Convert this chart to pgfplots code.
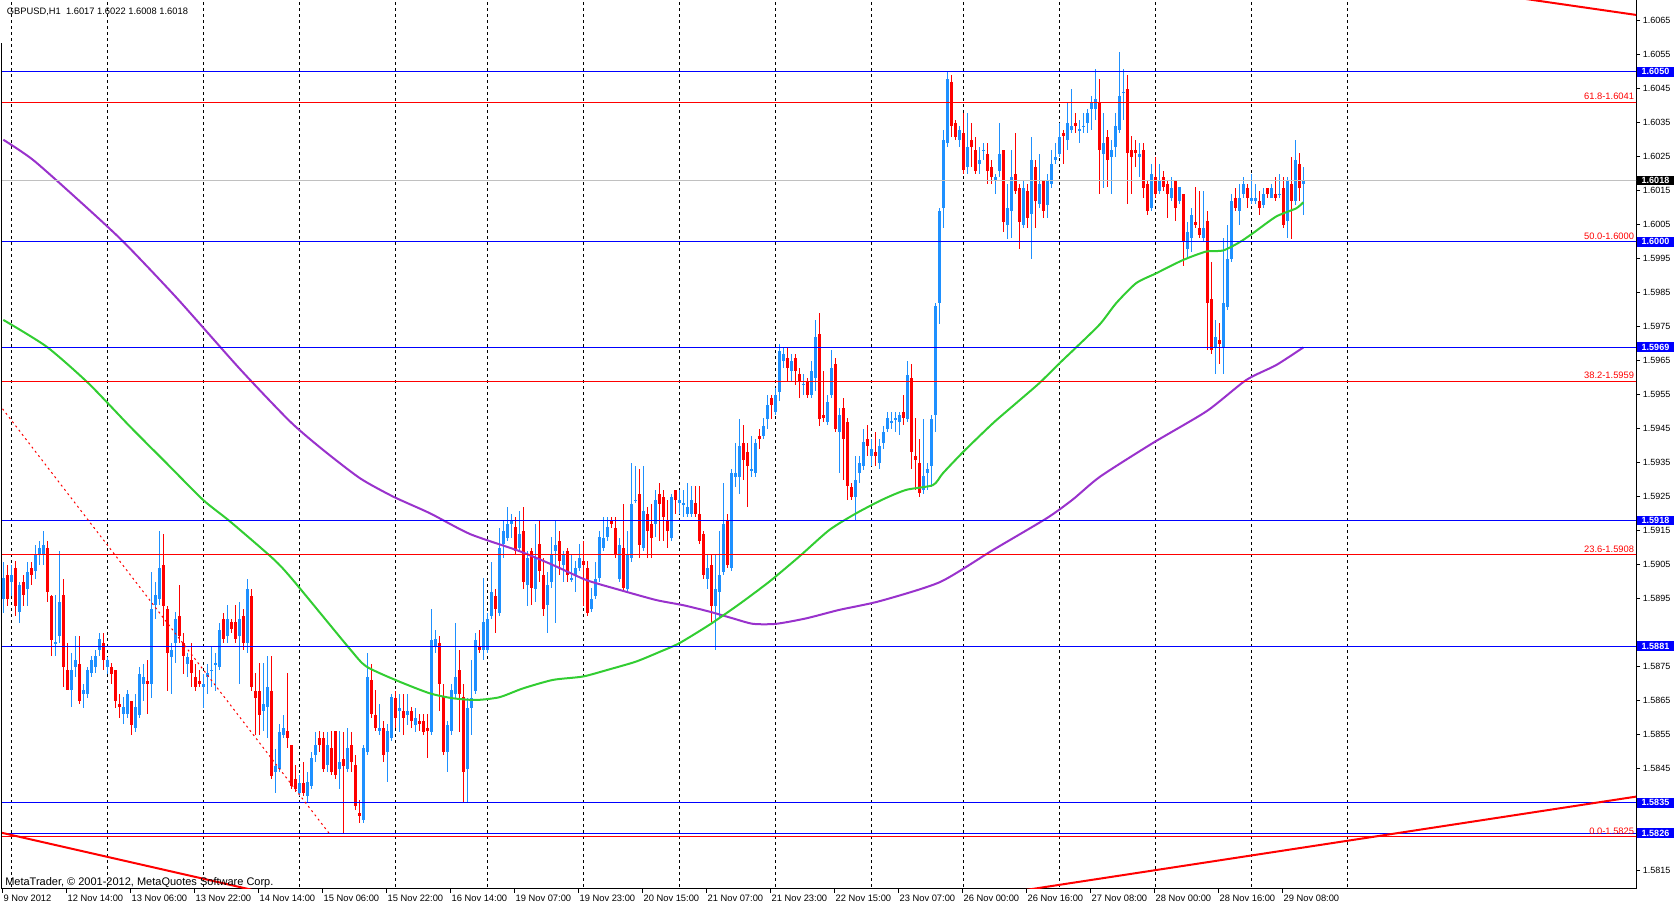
\documentclass[border=0pt]{standalone}
\usepackage{pgfplots}
\usepackage{pgfplotstable}
\usepackage{fontspec}
\setmainfont{Liberation Sans}
\pgfplotsset{compat=1.18}
\definecolor{bull}{HTML}{1E90FF}
\definecolor{bear}{HTML}{FF0000}
\definecolor{maG}{HTML}{32CD32}
\definecolor{maP}{HTML}{9932CC}
\definecolor{lvl}{HTML}{0000FF}
\definecolor{bidgray}{HTML}{C0C0C0}

\pgfplotstableread{
i o h l c
0 1.5895 1.5906 1.5891 1.5901
1 1.5902 1.5905 1.5893 1.5895
2 1.5900 1.5905 1.5896 1.5902
3 1.5904 1.5906 1.5890 1.5893
4 1.5891 1.5900 1.5888 1.5899
5 1.5900 1.5902 1.5893 1.5896
6 1.5898 1.5906 1.5893 1.5903
7 1.5904 1.5906 1.5899 1.5902
8 1.5903 1.5911 1.5901 1.5908
9 1.5908 1.5912 1.5905 1.5910
10 1.5908 1.5915 1.5905 1.5911
11 1.5910 1.5912 1.5894 1.5897
12 1.5896 1.5896 1.5878 1.5883
13 1.5882 1.5896 1.5878 1.5882
14 1.5884 1.5909 1.5882 1.5894
15 1.5896 1.5901 1.5869 1.5875
16 1.5874 1.5882 1.5868 1.5868
17 1.5868 1.5879 1.5863 1.5874
18 1.5875 1.5884 1.5872 1.5877
19 1.5876 1.5884 1.5864 1.5865
20 1.5867 1.5870 1.5863 1.5868
21 1.5867 1.5875 1.5866 1.5874
22 1.5873 1.5878 1.5872 1.5877
23 1.5875 1.5880 1.5873 1.5878
24 1.5880 1.5885 1.5878 1.5883
25 1.5882 1.5885 1.5874 1.5877
26 1.5875 1.5878 1.5873 1.5877
27 1.5875 1.5876 1.5870 1.5873
28 1.5874 1.5874 1.5863 1.5865
29 1.5864 1.5867 1.5860 1.5863
30 1.5861 1.5866 1.5858 1.5863
31 1.5861 1.5868 1.5860 1.5867
32 1.5865 1.5865 1.5855 1.5858
33 1.5857 1.5867 1.5856 1.5863
34 1.5861 1.5875 1.5860 1.5873
35 1.5870 1.5876 1.5865 1.5872
36 1.5871 1.5877 1.5861 1.5870
37 1.5870 1.5903 1.5866 1.5892
38 1.5893 1.5900 1.5889 1.5896
39 1.5895 1.5915 1.5893 1.5904
40 1.5905 1.5914 1.5887 1.5893
41 1.5892 1.5893 1.5868 1.5879
42 1.5878 1.5882 1.5867 1.5880
43 1.5882 1.5891 1.5876 1.5889
44 1.5890 1.5899 1.5882 1.5884
45 1.5882 1.5885 1.5873 1.5878
46 1.5876 1.5879 1.5872 1.5878
47 1.5877 1.5882 1.5869 1.5873
48 1.5872 1.5876 1.5868 1.5869
49 1.5871 1.5874 1.5869 1.5870
50 1.5869 1.5873 1.5863 1.5870
51 1.5872 1.5876 1.5867 1.5873
52 1.5874 1.5881 1.5869 1.5874
53 1.5876 1.5879 1.5868 1.5876
54 1.5875 1.5888 1.5874 1.5886
55 1.5889 1.5891 1.5882 1.5883
56 1.5884 1.5893 1.5882 1.5889
57 1.5888 1.5889 1.5885 1.5886
58 1.5888 1.5893 1.5882 1.5883
59 1.5884 1.5894 1.5870 1.5889
60 1.5890 1.5892 1.5880 1.5882
61 1.5882 1.5901 1.5879 1.5898
62 1.5896 1.5898 1.5868 1.5869
63 1.5868 1.5873 1.5855 1.5866
64 1.5868 1.5876 1.5855 1.5861
65 1.5862 1.5876 1.5856 1.5864
66 1.5863 1.5878 1.5854 1.5869
67 1.5868 1.5878 1.5842 1.5843
68 1.5844 1.5851 1.5838 1.5846
69 1.5845 1.5858 1.5844 1.5856
70 1.5855 1.5861 1.5854 1.5857
71 1.5856 1.5873 1.5851 1.5854
72 1.5852 1.5852 1.5839 1.5840
73 1.5842 1.5846 1.5838 1.5839
74 1.5838 1.5843 1.5837 1.5841
75 1.5841 1.5847 1.5837 1.5838
76 1.5837 1.5844 1.5835 1.5841
77 1.5840 1.5850 1.5839 1.5848
78 1.5849 1.5856 1.5847 1.5852
79 1.5854 1.5856 1.5850 1.5852
80 1.5854 1.5856 1.5844 1.5845
81 1.5846 1.5856 1.5844 1.5852
82 1.5851 1.5856 1.5843 1.5844
83 1.5856 1.5856 1.5842 1.5843
84 1.5845 1.5856 1.5839 1.5847
85 1.5848 1.5856 1.5826 1.5846
86 1.5845 1.5857 1.5844 1.5851
87 1.5852 1.5856 1.5844 1.5847
88 1.5846 1.5849 1.5833 1.5834
89 1.5832 1.5836 1.5829 1.5831
90 1.5830 1.5852 1.5829 1.5851
91 1.5850 1.5879 1.5849 1.5872
92 1.5871 1.5876 1.5860 1.5861
93 1.5861 1.5868 1.5856 1.5857
94 1.5856 1.5864 1.5855 1.5857
95 1.5857 1.5859 1.5847 1.5849
96 1.5850 1.5858 1.5841 1.5856
97 1.5854 1.5867 1.5853 1.5866
98 1.5866 1.5868 1.5857 1.5860
99 1.5862 1.5867 1.5856 1.5863
100 1.5862 1.5867 1.5855 1.5860
101 1.5861 1.5867 1.5858 1.5862
102 1.5862 1.5863 1.5857 1.5859
103 1.5858 1.5863 1.5856 1.5860
104 1.5859 1.5861 1.5856 1.5858
105 1.5859 1.5861 1.5855 1.5856
106 1.5857 1.5861 1.5848 1.5856
107 1.5856 1.5892 1.5855 1.5883
108 1.5881 1.5886 1.5879 1.5883
109 1.5882 1.5884 1.5862 1.5870
110 1.5866 1.5870 1.5849 1.5850
111 1.5850 1.5859 1.5844 1.5858
112 1.5856 1.5870 1.5855 1.5868
113 1.5867 1.5888 1.5866 1.5872
114 1.5874 1.5880 1.5856 1.5867
115 1.5866 1.5870 1.5835 1.5844
116 1.5845 1.5866 1.5835 1.5863
117 1.5863 1.5877 1.5855 1.5866
118 1.5868 1.5885 1.5867 1.5883
119 1.5881 1.5886 1.5879 1.5880
120 1.5880 1.5901 1.5877 1.5888
121 1.5880 1.5891 1.5879 1.5889
122 1.5890 1.5906 1.5889 1.5897
123 1.5896 1.5898 1.5885 1.5892
124 1.5891 1.5916 1.5890 1.5910
125 1.5911 1.5918 1.5907 1.5915
126 1.5913 1.5922 1.5912 1.5917
127 1.5917 1.5920 1.5913 1.5918
128 1.5916 1.5919 1.5908 1.5909
129 1.5910 1.5921 1.5909 1.5914
130 1.5915 1.5922 1.5898 1.5900
131 1.5899 1.5909 1.5893 1.5907
132 1.5909 1.5910 1.5893 1.5898
133 1.5898 1.5917 1.5894 1.5907
134 1.5911 1.5918 1.5900 1.5903
135 1.5902 1.5907 1.5890 1.5892
136 1.5893 1.5903 1.5885 1.5899
137 1.5900 1.5913 1.5898 1.5908
138 1.5909 1.5918 1.5888 1.5911
139 1.5912 1.5915 1.5902 1.5906
140 1.5905 1.5909 1.5900 1.5908
141 1.5909 1.5910 1.5900 1.5902
142 1.5901 1.5908 1.5900 1.5901
143 1.5902 1.5906 1.5897 1.5904
144 1.5904 1.5911 1.5903 1.5907
145 1.5906 1.5912 1.5893 1.5905
146 1.5904 1.5906 1.5890 1.5891
147 1.5892 1.5898 1.5891 1.5895
148 1.5896 1.5906 1.5895 1.5901
149 1.5901 1.5915 1.5900 1.5913
150 1.5910 1.5919 1.5909 1.5913
151 1.5913 1.5919 1.5912 1.5916
152 1.5918 1.5919 1.5916 1.5917
153 1.5916 1.5919 1.5907 1.5908
154 1.5901 1.5913 1.5900 1.5911
155 1.5910 1.5923 1.5897 1.5898
156 1.5898 1.5915 1.5897 1.5908
157 1.5907 1.5935 1.5906 1.5923
158 1.5924 1.5934 1.5923 1.5924
159 1.5926 1.5933 1.5907 1.5911
160 1.5910 1.5934 1.5909 1.5921
161 1.5920 1.5922 1.5907 1.5915
162 1.5917 1.5923 1.5907 1.5913
163 1.5917 1.5927 1.5913 1.5924
164 1.5926 1.5929 1.5912 1.5923
165 1.5925 1.5927 1.5912 1.5919
166 1.5918 1.5924 1.5910 1.5915
167 1.5913 1.5926 1.5912 1.5925
168 1.5927 1.5927 1.5920 1.5924
169 1.5923 1.5927 1.5920 1.5924
170 1.5923 1.5927 1.5919 1.5923
171 1.5920 1.5929 1.5919 1.5922
172 1.5920 1.5928 1.5919 1.5924
173 1.5923 1.5928 1.5919 1.5920
174 1.5920 1.5928 1.5911 1.5912
175 1.5914 1.5915 1.5901 1.5902
176 1.5901 1.5908 1.5898 1.5904
177 1.5905 1.5908 1.5888 1.5893
178 1.5893 1.5908 1.5880 1.5898
179 1.5897 1.5915 1.5889 1.5902
180 1.5903 1.5929 1.5902 1.5917
181 1.5918 1.5920 1.5904 1.5905
182 1.5904 1.5933 1.5903 1.5932
183 1.5931 1.5941 1.5928 1.5932
184 1.5931 1.5948 1.5926 1.5940
185 1.5941 1.5946 1.5930 1.5936
186 1.5938 1.5941 1.5922 1.5934
187 1.5933 1.5943 1.5931 1.5933
188 1.5932 1.5942 1.5931 1.5941
189 1.5943 1.5945 1.5939 1.5942
190 1.5943 1.5948 1.5942 1.5946
191 1.5948 1.5955 1.5945 1.5952
192 1.5954 1.5955 1.5948 1.5952
193 1.5950 1.5957 1.5949 1.5955
194 1.5956 1.5970 1.5953 1.5968
195 1.5965 1.5969 1.5963 1.5967
196 1.5966 1.5969 1.5959 1.5963
197 1.5962 1.5967 1.5959 1.5965
198 1.5966 1.5967 1.5958 1.5962
199 1.5961 1.5963 1.5954 1.5959
200 1.5958 1.5961 1.5955 1.5958
201 1.5959 1.5960 1.5954 1.5955
202 1.5955 1.5965 1.5954 1.5962
203 1.5960 1.5977 1.5956 1.5972
204 1.5973 1.5979 1.5946 1.5948
205 1.5949 1.5962 1.5947 1.5948
206 1.5947 1.5955 1.5946 1.5953
207 1.5955 1.5968 1.5954 1.5963
208 1.5964 1.5966 1.5944 1.5945
209 1.5944 1.5951 1.5932 1.5949
210 1.5951 1.5954 1.5930 1.5942
211 1.5947 1.5948 1.5924 1.5928
212 1.5928 1.5929 1.5924 1.5925
213 1.5925 1.5937 1.5918 1.5930
214 1.5932 1.5937 1.5929 1.5935
215 1.5934 1.5945 1.5933 1.5941
216 1.5942 1.5946 1.5937 1.5940
217 1.5937 1.5942 1.5934 1.5939
218 1.5938 1.5944 1.5934 1.5937
219 1.5935 1.5942 1.5933 1.5940
220 1.5941 1.5946 1.5939 1.5944
221 1.5945 1.5950 1.5944 1.5948
222 1.5947 1.5950 1.5945 1.5947
223 1.5948 1.5950 1.5944 1.5948
224 1.5947 1.5950 1.5943 1.5949
225 1.5950 1.5955 1.5946 1.5948
226 1.5948 1.5965 1.5947 1.5961
227 1.5960 1.5964 1.5933 1.5938
228 1.5937 1.5948 1.5927 1.5936
229 1.5935 1.5942 1.5925 1.5926
230 1.5927 1.5948 1.5926 1.5931
231 1.5932 1.5935 1.5927 1.5933
232 1.5934 1.5949 1.5928 1.5948
233 1.5949 1.5982 1.5944 1.5981
234 1.5982 1.6010 1.5976 1.6009
235 1.6010 1.6033 1.6004 1.6030
236 1.6029 1.6050 1.6028 1.6048
237 1.6047 1.6049 1.6031 1.6034
238 1.6035 1.6036 1.6030 1.6031
239 1.6030 1.6034 1.6028 1.6033
240 1.6032 1.6038 1.6020 1.6021
241 1.6022 1.6038 1.6020 1.6028
242 1.6030 1.6035 1.6022 1.6028
243 1.6027 1.6031 1.6020 1.6021
244 1.6023 1.6028 1.6020 1.6024
245 1.6027 1.6029 1.6024 1.6027
246 1.6026 1.6029 1.6017 1.6021
247 1.6022 1.6024 1.6017 1.6019
248 1.6018 1.6020 1.6014 1.6019
249 1.6021 1.6035 1.6019 1.6026
250 1.6027 1.6027 1.6003 1.6006
251 1.6005 1.6017 1.6001 1.6010
252 1.6009 1.6027 1.6001 1.6019
253 1.6020 1.6032 1.6014 1.6015
254 1.6016 1.6017 1.5998 1.6006
255 1.6005 1.6018 1.6004 1.6016
256 1.6015 1.6017 1.6004 1.6007
257 1.6008 1.6031 1.5995 1.6024
258 1.6022 1.6024 1.6004 1.6012
259 1.6011 1.6026 1.6010 1.6017
260 1.6018 1.6018 1.6007 1.6009
261 1.6011 1.6020 1.6007 1.6018
262 1.6017 1.6027 1.6016 1.6023
263 1.6024 1.6029 1.6023 1.6025
264 1.6026 1.6035 1.6025 1.6031
265 1.6032 1.6033 1.6023 1.6031
266 1.6030 1.6041 1.6027 1.6035
267 1.6033 1.6045 1.6032 1.6034
268 1.6035 1.6038 1.6032 1.6034
269 1.6033 1.6036 1.6029 1.6033
270 1.6034 1.6038 1.6032 1.6034
271 1.6035 1.6039 1.6032 1.6038
272 1.6039 1.6043 1.6033 1.6041
273 1.6039 1.6051 1.6036 1.6042
274 1.6041 1.6048 1.6014 1.6027
275 1.6026 1.6038 1.6016 1.6029
276 1.6031 1.6033 1.6016 1.6024
277 1.6025 1.6030 1.6014 1.6027
278 1.6028 1.6038 1.6025 1.6034
279 1.6033 1.6056 1.6032 1.6043
280 1.6044 1.6051 1.6036 1.6044
281 1.6045 1.6049 1.6011 1.6026
282 1.6027 1.6031 1.6014 1.6025
283 1.6027 1.6030 1.6022 1.6026
284 1.6025 1.6029 1.6019 1.6026
285 1.6027 1.6029 1.6013 1.6016
286 1.6017 1.6018 1.6008 1.6009
287 1.6010 1.6023 1.6009 1.6020
288 1.6019 1.6025 1.6013 1.6014
289 1.6015 1.6023 1.6014 1.6018
290 1.6019 1.6021 1.6015 1.6016
291 1.6017 1.6018 1.6007 1.6014
292 1.6013 1.6019 1.6012 1.6016
293 1.6018 1.6018 1.6006 1.6010
294 1.6012 1.6016 1.6011 1.6016
295 1.6014 1.6014 1.5993 1.6000
296 1.5998 1.6006 1.5995 1.6003
297 1.6001 1.6010 1.5997 1.6008
298 1.6006 1.6016 1.6004 1.6005
299 1.6004 1.6015 1.6001 1.6002
300 1.6001 1.6015 1.6000 1.6004
301 1.6006 1.6009 1.5968 1.5982
302 1.5983 1.5994 1.5967 1.5968
303 1.5969 1.5977 1.5961 1.5972
304 1.5971 1.5976 1.5964 1.5970
305 1.5969 1.6001 1.5961 1.5982
306 1.5981 1.6005 1.5980 1.5995
307 1.5995 1.6014 1.5994 1.6012
308 1.6013 1.6016 1.6009 1.6010
309 1.6009 1.6017 1.6005 1.6013
310 1.6014 1.6019 1.6013 1.6017
311 1.6016 1.6017 1.6010 1.6013
312 1.6012 1.6020 1.6011 1.6013
313 1.6012 1.6017 1.6011 1.6013
314 1.6012 1.6015 1.6008 1.6010
315 1.6011 1.6016 1.6010 1.6014
316 1.6016 1.6016 1.6013 1.6014
317 1.6013 1.6017 1.6013 1.6016
318 1.6014 1.6019 1.6012 1.6013
319 1.6014 1.6020 1.6013 1.6014
320 1.6016 1.6019 1.6004 1.6005
321 1.6006 1.6019 1.6001 1.6018
322 1.6017 1.6025 1.6001 1.6012
323 1.6012 1.6030 1.6011 1.6024
324 1.6023 1.6026 1.6012 1.6016
325 1.6017 1.6022 1.6008 1.6018
}\candles

\pgfplotstableread{
i p
0 1.59770
10.85 1.59691
21.25 1.59584
31.7 1.59456
40.85 1.59348
50 1.59240
56.7 1.59177
67.5 1.59067
72.4 1.59005
86.5 1.58804
90.7 1.58751
98.2 1.58710
106.5 1.58672
112.4 1.58657
118.2 1.58652
124 1.58660
129.9 1.58686
137.4 1.58711
144.9 1.58721
151.5 1.58742
158.2 1.58765
164.2 1.58794
169 1.58819
176.5 1.58873
184 1.58934
191.5 1.59000
199 1.59074
206.5 1.59152
213.2 1.59201
219.9 1.59242
225.7 1.59270
232.4 1.59284
234.9 1.59319
240 1.59382
247.4 1.59466
253.2 1.59525
259 1.59584
264 1.59642
268.2 1.59689
274.2 1.59758
278.2 1.59819
283.2 1.59878
288.2 1.59907
294.9 1.59946
300.7 1.59971
304.9 1.59974
309 1.59998
312.4 1.60025
318.2 1.60074
323.2 1.60098
325 1.60116
}\maGreen

\pgfplotstableread{
i p
0 1.60300
7.5 1.60240
19.2 1.60118
30 1.60000
43.4 1.59834
59.2 1.59625
71.7 1.59471
80 1.59387
89.2 1.59304
97.5 1.59250
106.7 1.59201
116.7 1.59140
129 1.59090
137.4 1.59049
145.7 1.59005
154 1.58976
163.2 1.58946
169.9 1.58931
176.5 1.58912
182.4 1.58892
187.4 1.58876
193.2 1.58876
200.7 1.58892
209 1.58917
219.2 1.58943
234.2 1.58999
247.4 1.59093
260.9 1.59187
267.4 1.59242
274.2 1.59309
287.4 1.59408
300.9 1.59502
310.7 1.59593
318.2 1.59637
325 1.59689
}\maPurple

\pgfplotsset{
  wick/.style={draw=none, mark=none, forget plot,
    /pgfplots/error bars/y dir=both, /pgfplots/error bars/y explicit,
    /pgfplots/error bars/error mark=none,
    /pgfplots/error bars/error bar style={draw=#1, line width=0.75pt, line cap=butt}},
  body/.style={draw=none, mark=none, forget plot,
    /pgfplots/error bars/y dir=both, /pgfplots/error bars/y explicit,
    /pgfplots/error bars/error mark=none,
    /pgfplots/error bars/error bar style={draw=#1, line width=2.25pt, line cap=butt}},
  hline/.style={#1, line width=0.75pt, forget plot, mark=none},
}
\tikzset{
  boxlbl/.style={fill=#1, text=white, anchor=west, inner sep=0pt, minimum width=28pt,
    minimum height=7.3pt, font=\bfseries\fontsize{6.75pt}{8pt}\selectfont, xshift=0.4pt},
  fiblbl/.style={text=red, anchor=south east, inner sep=0pt, xshift=-1.3pt, yshift=1.5pt,
    font=\fontsize{7pt}{8pt}\selectfont},
}

\begin{document}
\begin{tikzpicture}
\path[use as bounding box] (0,0) rectangle (1255.5pt,679.5pt);
\begin{axis}[
  at={(1.5pt,12.75pt)}, anchor=south west, scale only axis,
  width=1225.5pt, height=666.75pt,
  xmin=-0.325, xmax=408.175, ymin=1.58096, ymax=1.60711,
  clip mode=individual,
  axis x line*=bottom, axis y line*=right,
  x axis line style={-}, y axis line style={-},
  axis line style={black, line width=0.75pt},
  xtick pos=left, xticklabel pos=left,
  ytick pos=right, yticklabel pos=right,
  tick align=outside, major tick length=3pt,
  tick style={black, line width=0.75pt},
  xtick={-0.15,15.85,31.85,47.85,63.85,79.85,95.85,111.85,127.85,143.85,159.85,175.85,191.85,207.85,223.85,239.85,255.85,271.85,287.85,303.85,319.85},
  xticklabels={9 Nov 2012,12 Nov 14:00,13 Nov 06:00,13 Nov 22:00,14 Nov 14:00,15 Nov 06:00,15 Nov 22:00,16 Nov 14:00,19 Nov 07:00,19 Nov 23:00,20 Nov 15:00,21 Nov 07:00,21 Nov 23:00,22 Nov 15:00,23 Nov 07:00,26 Nov 00:00,26 Nov 16:00,27 Nov 08:00,28 Nov 00:00,28 Nov 16:00,29 Nov 08:00},
  xticklabel style={anchor=north west, inner sep=0pt, xshift=0.5pt, yshift=-1.5pt,
    font=\fontsize{7pt}{8pt}\selectfont},
  ytick={1.5815,1.5835,1.5845,1.5855,1.5865,1.5875,1.5895,1.5905,1.5915,1.5925,1.5935,1.5945,1.5955,1.5965,1.5975,1.5985,1.5995,1.6005,1.6015,1.6025,1.6035,1.6045,1.6055,1.6065},
  scaled y ticks=false,
  yticklabel style={anchor=west, inner sep=0pt, xshift=2pt,
    font=\fontsize{6.75pt}{8pt}\selectfont,
    /pgf/number format/.cd, fixed, fixed zerofill, precision=4, assume math mode=true},
]
% day separators
\pgfplotsinvokeforeach{2,26,50,74,98,121,145,169,193,217,240,264,288,312,336}{
  \addplot[black, line width=0.75pt, dash pattern=on 2.25pt off 2.25pt, forget plot, mark=none]
    coordinates {(#1,1.5805) (#1,1.6080)};
}
% candles: wicks
\addplot[wick=bull, restrict expr to domain={\thisrow{c}-\thisrow{o}}{-0.00005:1}]
  table[x=i, y expr={(\thisrow{h}+\thisrow{l})/2}, y error expr={(\thisrow{h}-\thisrow{l})/2}] {\candles};
\addplot[wick=bear, restrict expr to domain={\thisrow{c}-\thisrow{o}}{-1:-0.00005}]
  table[x=i, y expr={(\thisrow{h}+\thisrow{l})/2}, y error expr={(\thisrow{h}-\thisrow{l})/2}] {\candles};
% candles: bodies
\addplot[body=bull, restrict expr to domain={\thisrow{c}-\thisrow{o}}{-0.00005:1}]
  table[x=i, y expr={(\thisrow{o}+\thisrow{c})/2}, y error expr={max(abs(\thisrow{c}-\thisrow{o})/2,0.0000147)}] {\candles};
\addplot[body=bear, restrict expr to domain={\thisrow{c}-\thisrow{o}}{-1:-0.00005}]
  table[x=i, y expr={(\thisrow{o}+\thisrow{c})/2}, y error expr={max(abs(\thisrow{c}-\thisrow{o})/2,0.0000147)}] {\candles};
% moving averages
\addplot[maP, line width=1.5pt, mark=none, smooth, tension=0.4] table[x=i, y=p] {\maPurple};
\addplot[maG, line width=1.5pt, mark=none, smooth, tension=0.4] table[x=i, y=p] {\maGreen};
% fibonacci levels (red)
\addplot[hline=red] coordinates {(-2,1.6041) (412,1.6041)};
\addplot[hline=red] coordinates {(-2,1.6000) (412,1.6000)};
\addplot[hline=red] coordinates {(-2,1.5959) (412,1.5959)};
\addplot[hline=red] coordinates {(-2,1.5908) (412,1.5908)};
\addplot[hline=red] coordinates {(-2,1.5825) (412,1.5825)};
% bid line
\addplot[hline=bidgray] coordinates {(-2,1.6018) (412,1.6018)};
% horizontal levels (blue)
\addplot[hline=lvl] coordinates {(-2,1.6050) (412,1.6050)};
\addplot[hline=lvl] coordinates {(-2,1.6000) (412,1.6000)};
\addplot[hline=lvl] coordinates {(-2,1.5969) (412,1.5969)};
\addplot[hline=lvl] coordinates {(-2,1.5918) (412,1.5918)};
\addplot[hline=lvl] coordinates {(-2,1.5881) (412,1.5881)};
\addplot[hline=lvl] coordinates {(-2,1.5835) (412,1.5835)};
\addplot[hline=lvl] coordinates {(-2,1.5826) (412,1.5826)};
% fibonacci diagonal
\addplot[red, line width=0.75pt, dash pattern=on 1.5pt off 2.5pt, forget plot, mark=none]
  coordinates {(-1,1.59521) (81.7,1.58256)};
% trend lines
\addplot[red, line width=1.5pt, forget plot, mark=none] coordinates {(380,1.60715) (410,1.60664)};
\addplot[red, line width=1.5pt, forget plot, mark=none] coordinates {(-1,1.58263) (62,1.58094)};
\addplot[red, line width=1.5pt, forget plot, mark=none] coordinates {(255,1.58092) (410,1.58371)};
% left border
\draw[black, line width=0.75pt] (rel axis cs:0,0) -- (rel axis cs:0,0.9516);
% fib labels
\node[fiblbl] at (axis cs:408.175,1.6041) {61.8-1.6041};
\node[fiblbl] at (axis cs:408.175,1.6000) {50.0-1.6000};
\node[fiblbl] at (axis cs:408.175,1.5959) {38.2-1.5959};
\node[fiblbl] at (axis cs:408.175,1.5908) {23.6-1.5908};
\node[fiblbl] at (axis cs:408.175,1.5825) {0.0-1.5825};
% price boxes
\node[boxlbl=lvl] at (axis cs:408.175,1.6050) {1.6050};
\node[boxlbl=black] at (axis cs:408.175,1.6018) {1.6018};
\node[boxlbl=lvl] at (axis cs:408.175,1.6000) {1.6000};
\node[boxlbl=lvl] at (axis cs:408.175,1.5969) {1.5969};
\node[boxlbl=lvl] at (axis cs:408.175,1.5918) {1.5918};
\node[boxlbl=lvl] at (axis cs:408.175,1.5881) {1.5881};
\node[boxlbl=lvl] at (axis cs:408.175,1.5835) {1.5835};
\node[boxlbl=lvl] at (axis cs:408.175,1.5826) {1.5826};
% texts
\node[anchor=north west, inner sep=0pt, xshift=3.5pt, yshift=-5.5pt, font=\fontsize{7pt}{8pt}\selectfont]
  at (rel axis cs:0,1) {GBPUSD,H1\ \ 1.6017 1.6022 1.6008 1.6018};
\node[anchor=base west, inner sep=0pt, xshift=2.25pt, yshift=2.8pt, font=\fontsize{8.25pt}{9pt}\selectfont]
  at (rel axis cs:0,0) {MetaTrader, \textcopyright{} 2001-2012, MetaQuotes Software Corp.};
\end{axis}
\end{tikzpicture}
\end{document}
